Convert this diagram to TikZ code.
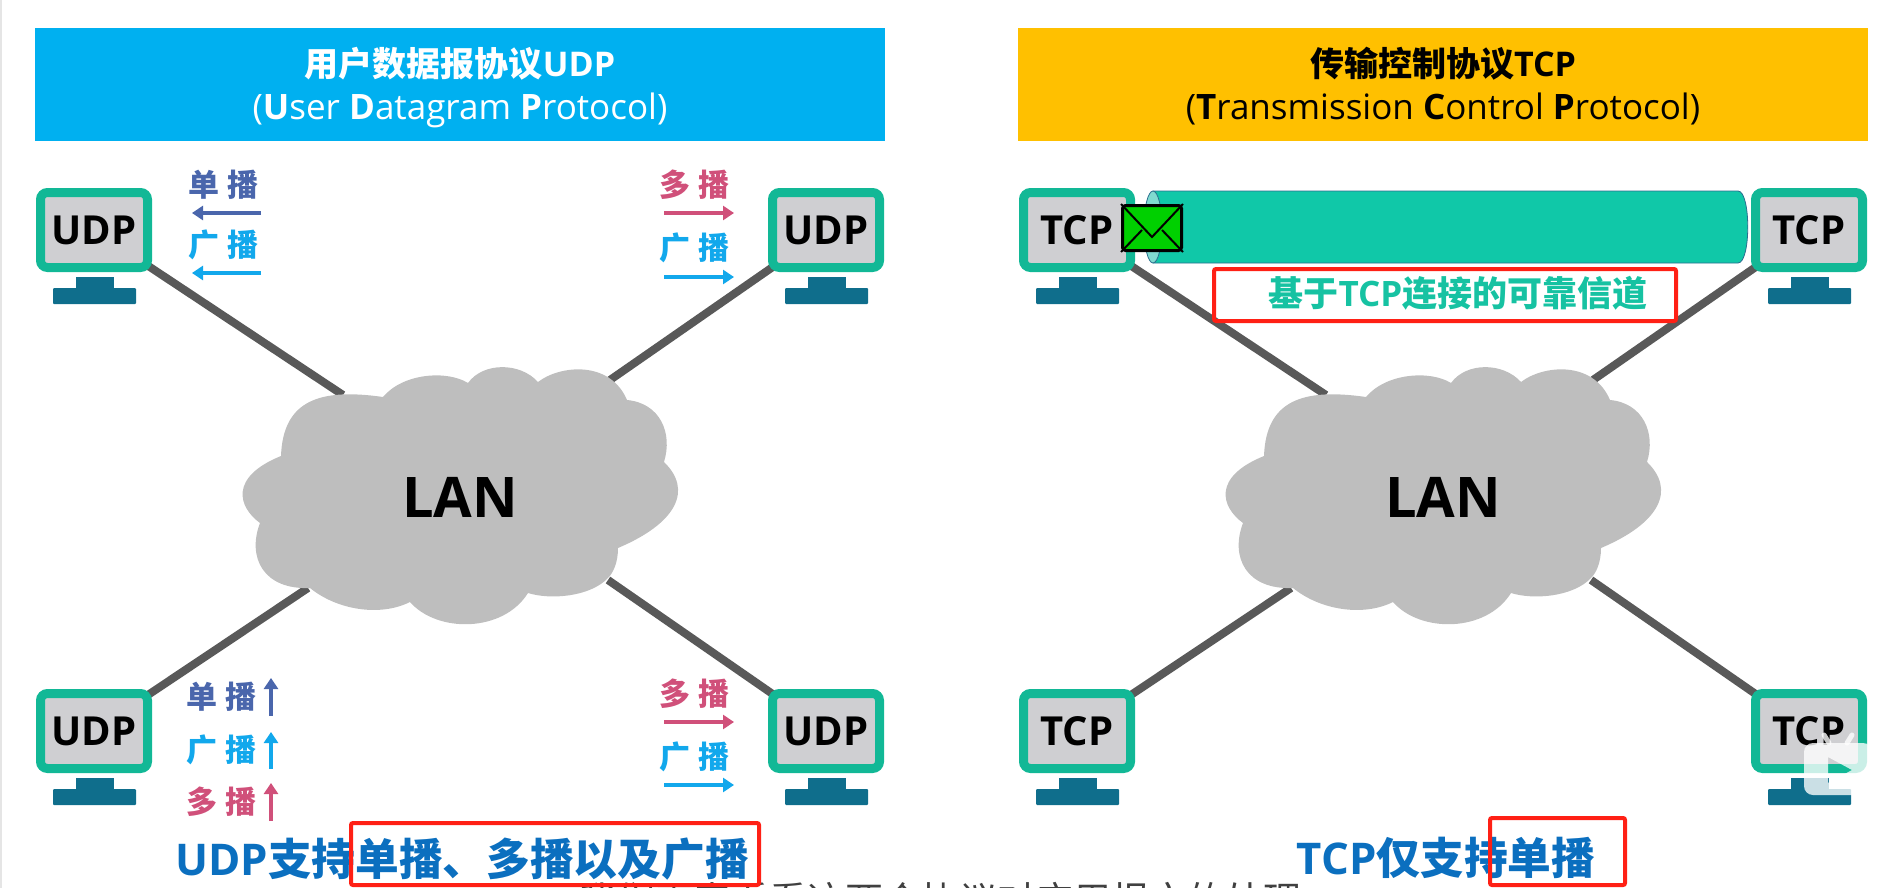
\documentclass[tikz,border=0pt]{standalone}
\usepackage{fontspec}
\setmainfont{Open Sans}
\newfontfamily\cjk{Noto Sans CJK SC}
\usetikzlibrary{%
  arrows.meta,%
  backgrounds%
}
\definecolor{udpblue}{HTML}{00B0F0}
\definecolor{tcpgold}{HTML}{FFC000}
\definecolor{hostgreen}{HTML}{12B896}
\definecolor{screengray}{HTML}{CFCFD2}
\definecolor{standblue}{HTML}{0F6E8C}
\definecolor{linkgray}{HTML}{595959}
\definecolor{cloudgray}{HTML}{BEBEBE}
\definecolor{castblue}{HTML}{4A66AC}
\definecolor{castcyan}{HTML}{12A8EC}
\definecolor{castpink}{HTML}{D0507A}
\definecolor{pipegreen}{HTML}{10C8A8}
\definecolor{pipeend}{HTML}{80DAD0}
\definecolor{pipeline}{HTML}{2A6F8F}
\definecolor{mailgreen}{HTML}{00D000}
\definecolor{chantext}{HTML}{16C2A2}
\definecolor{sumblue}{HTML}{0B6FBF}
\definecolor{markred}{HTML}{FF2015}
\newcommand{\fs}[1]{\fontsize{#1}{#1}\selectfont}
\tikzset{
  banner/.style={minimum width=850pt,minimum height=113pt,inner sep=0pt},
  headline/.style={anchor=base,inner sep=0pt},
  screen/.style={draw=hostgreen,fill=screengray,line width=9pt,rounded corners=7pt,
    minimum width=107pt,minimum height=75pt,inner sep=0pt,font=\bfseries\fs{40}},
  link/.style={linkgray,line width=8pt},
  lanlabel/.style={inner sep=0pt,font=\bfseries\fs{56}},
  castlabel/.style={inner sep=0pt,font=\bfseries\cjk\fs{31}},
  castarrow/.style={line width=4pt,-{Triangle[length=11pt,width=14pt]}},
  markbox/.style={draw=markred,line width=4pt,rounded corners=2pt,inner sep=0pt},
  summary/.style={inner sep=0pt,text=sumblue,font=\bfseries\fs{43.7}},
  mailbox/.style={draw=black,fill=mailgreen,line width=3pt,rounded corners=3pt,
    minimum width=59pt,minimum height=45pt,inner sep=0pt}
}
\newcommand{\host}[4]{
    \node[screen] (#1) at (#2,#3) {#4};
    \fill[standblue] (#2-18,#3+47) rectangle (#2+20,#3+59);
    \fill[standblue,rounded corners=1pt] (#2-41,#3+58) rectangle (#2+42,#3+74);
}
\newcommand{\lancloud}{
    \fill[cloudgray] (260,523) .. controls (238,507) and (229,477) .. (281,456)
    .. controls (283,400) and (320,388) .. (383,397)
    .. controls (403,373) and (447,370) .. (468,383)
    .. controls (483,362) and (520,362) .. (538,382)
    .. controls (560,365) and (610,360) .. (627,400)
    .. controls (660,403) and (673,433) .. (664,462)
    .. controls (693,490) and (677,523) .. (618,548)
    .. controls (618,563) and (613,573) .. (608,578)
    .. controls (590,597) and (550,600) .. (528,593)
    .. controls (503,633) and (437,633) .. (410,602)
    .. controls (380,617) and (337,610) .. (310,588)
    .. controls (263,590) and (247,557) .. (260,523) -- cycle;
}

\begin{document}
\begin{tikzpicture}[x=1pt,y=-1pt]
    \useasboundingbox (0,0) rectangle (1889,888);
    \clip (0,0) rectangle (1889,888);
    \fill[gray!20] (0,0) rectangle (2,888);
    \node[banner,fill=udpblue] (udpHead) at (460,84.5) {};
    \node[headline,text=white] (udpTitle) at (460,77)
    {\bfseries\fs{34}{\cjk 用户数据报协议}UDP};
    \node[headline,text=white] (udpName) at (460,120)
    {\fs{35}(\textbf{U}ser \textbf{D}atagram \textbf{P}rotocol)};
    \node[banner,fill=tcpgold] (tcpHead) at (1443,84.5) {};
    \node[headline] (tcpTitle) at (1443,77)
    {\bfseries\fs{34}{\cjk 传输控制协议}TCP};
    \node[headline] (tcpName) at (1443,120)
    {\fs{35}(\textbf{T}ransmission \textbf{C}ontrol \textbf{P}rotocol)};
    \foreach \side/\proto/\off in {U/UDP/0,T/TCP/983}{
      \begin{scope}[xshift=\off]
        \host{host\side a}{94}{230}{\proto}
        \host{host\side b}{826}{230}{\proto}
        \host{host\side c}{94}{731}{\proto}
        \host{host\side d}{826}{731}{\proto}
        \coordinate (lan\side a) at (343,395);
        \coordinate (lan\side b) at (610,380);
        \coordinate (lan\side c) at (308,588);
        \coordinate (lan\side d) at (608,580);
        \begin{pgfonlayer}{background}
          \foreach \n in {a,b,c,d}
          \draw[link] (host\side\n.center) -- (lan\side\n);
        \end{pgfonlayer}
        \lancloud
        \node[lanlabel] (lan\side) at (460,497) {LAN};
      \end{scope}
    }
    \foreach \name/\txt/\col/\lx/\ly/\ax/\ay/\bx/\by in {
      castA/单\kern8pt播/castblue/223/185/261/213/192/213,
      castB/广\kern8pt播/castcyan/223/245/261/273/192/273,
      castC/多\kern8pt播/castpink/694/185/664/213/734/213,
      castD/广\kern8pt播/castcyan/694/248/664/277/734/277,
      castE/单\kern8pt播/castblue/221/697/271/716/271/678,
      castF/广\kern8pt播/castcyan/221/750/271/769/271/732,
      castG/多\kern8pt播/castpink/221/802/271/821/271/783,
      castH/多\kern8pt播/castpink/694/694/664/722/734/722,
      castI/广\kern8pt播/castcyan/694/757/664/785/734/785}{
      \node[castlabel,color=\col] (\name) at (\lx,\ly) {\txt};
      \coordinate (\name a) at (\ax,\ay);
      \coordinate (\name b) at (\bx,\by);
      \draw[castarrow,color=\col] (\name a) -- (\name b);
    }
    \draw[pipeline,fill=pipegreen,line width=0.8pt] (1153,191) -- (1738,191)
    .. controls (1751,191) and (1751,263) .. (1738,263) -- (1153,263) -- cycle;
    \draw[pipeline,fill=pipeend,line width=0.8pt] (1153,227) ellipse [x radius=9pt,y radius=36pt];
    \node[mailbox] (mail) at (1152,228) {};
    \coordinate (mailFold) at (1152,237);
    \coordinate (mailL) at (1142,230);
    \coordinate (mailR) at (1162,230);
    \draw[line width=2pt] (mail.north west) -- (mailFold) -- (mail.north east);
    \draw[line width=2pt] (mail.south west) -- (mailL);
    \draw[line width=2pt] (mail.south east) -- (mailR);
    \node[inner sep=0pt,text=chantext,font=\bfseries\fs{35}] (chanText) at (1458,293)
    {{\cjk 基于}TCP{\cjk 连接的可靠信道}};
    \node[markbox,minimum width=462pt,minimum height=52pt] (chanBox) at (1445,295) {};
    \node[summary] (udpSum) at (462,859) {UDP{\cjk 支持单播、多播以及广播}};
    \node[summary] (tcpSum) at (1446,858) {TCP{\cjk 仅支持单播}};
    \node[inner sep=0pt,text=black!75,font=\cjk\fs{38}] (subtitle) at (940,900)
    {我们再来看看这两个协议对应用报文的处理};
    \node[markbox,minimum width=408pt,minimum height=62pt] (udpBox) at (555,854) {};
    \node[markbox,minimum width=135pt,minimum height=67pt] (tcpBox) at (1557.5,851.5) {};
    \fill[white,opacity=0.78,even odd rule,rounded corners=9pt]
    (1804,743) rectangle (1872,795) [sharp corners] (1828,757) -- (1852,770) -- (1828,783) -- cycle;
    \draw[white,opacity=0.78,line width=5pt,line cap=round] (1824,735) -- (1829,743);
    \draw[white,opacity=0.78,line width=5pt,line cap=round] (1852,735) -- (1847,743);
\end{tikzpicture}
\end{document}
